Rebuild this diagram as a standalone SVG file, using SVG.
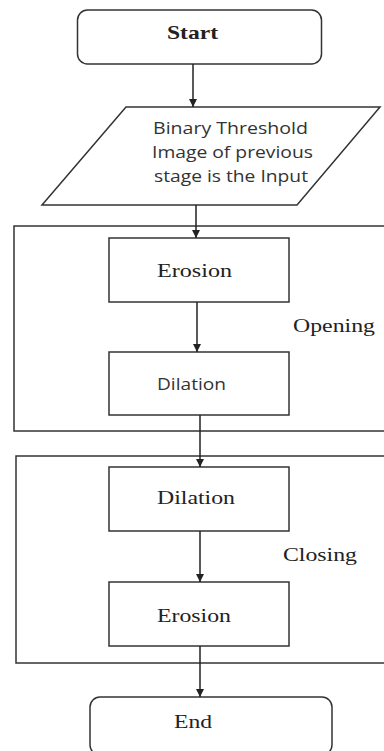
<svg xmlns="http://www.w3.org/2000/svg" width="384" height="751" viewBox="0 0 384 751">
  <defs>
    <style>
      .shape { fill: #ffffff; stroke: #333333; stroke-width: 1.5; }
      .group { fill: none; stroke: #333333; stroke-width: 1.5; }
      .serif { font-family: "Liberation Serif", "Times New Roman", serif; font-size: 19px; fill: #222222; }
      .sans { font-family: "Open Sans", "Liberation Sans", sans-serif; font-size: 15.5px; fill: #333333; }
      .conn { stroke: #222222; stroke-width: 1.5; fill: none; marker-end: url(#arrow); }
    </style>
    <marker id="arrow" viewBox="0 0 10 10" refX="10" refY="5" markerWidth="8" markerHeight="8" markerUnits="userSpaceOnUse" orient="auto">
      <path d="M0,0 L10,5 L0,10 z" fill="#222222"/>
    </marker>
  </defs>
  <rect width="384" height="751" fill="#ffffff"/>

  <g id="group-opening">
    <rect class="group" x="14" y="226" width="380" height="205"/>
    <text class="serif" x="293" y="332" textLength="82" lengthAdjust="spacingAndGlyphs">Opening</text>
  </g>
  <g id="group-closing">
    <rect class="group" x="16" y="456" width="380" height="207"/>
    <text class="serif" x="283" y="561" textLength="74" lengthAdjust="spacingAndGlyphs">Closing</text>
  </g>

  <g id="start">
    <rect class="shape" x="77.5" y="10" width="244" height="54" rx="10" ry="10"/>
    <text class="serif" x="167" y="39" font-size="20" font-weight="bold" textLength="51" lengthAdjust="spacingAndGlyphs">Start</text>
  </g>

  <g id="input">
    <path class="shape" d="M126,107 L380,107 L297,205 L42,205 Z"/>
    <text class="sans" x="153" y="134" textLength="155" lengthAdjust="spacingAndGlyphs">Binary Threshold</text>
    <text class="sans" x="152" y="158" textLength="161" lengthAdjust="spacingAndGlyphs">Image of previous</text>
    <text class="sans" x="154" y="182" textLength="154" lengthAdjust="spacingAndGlyphs">stage is the Input</text>
  </g>

  <g id="erosion1">
    <rect class="shape" x="109" y="238" width="180" height="64"/>
    <text class="serif" x="157" y="277" textLength="75" lengthAdjust="spacingAndGlyphs">Erosion</text>
  </g>

  <g id="dilation1">
    <rect class="shape" x="109" y="352" width="180" height="63"/>
    <text class="sans" x="157" y="390" textLength="69" lengthAdjust="spacingAndGlyphs">Dilation</text>
  </g>

  <g id="dilation2">
    <rect class="shape" x="109" y="467" width="180" height="64"/>
    <text class="serif" x="157" y="504" textLength="78" lengthAdjust="spacingAndGlyphs">Dilation</text>
  </g>

  <g id="erosion2">
    <rect class="shape" x="109" y="582" width="180" height="64"/>
    <text class="serif" x="157" y="622" textLength="74" lengthAdjust="spacingAndGlyphs">Erosion</text>
  </g>

  <g id="end">
    <rect class="shape" x="90" y="697" width="242" height="58" rx="10" ry="10"/>
    <text class="serif" x="174" y="728" textLength="38" lengthAdjust="spacingAndGlyphs">End</text>
  </g>

  <g id="connectors">
    <line class="conn" x1="193" y1="64" x2="193" y2="107"/>
    <line class="conn" x1="196" y1="205" x2="196" y2="238"/>
    <line class="conn" x1="197" y1="302" x2="197" y2="352"/>
    <line class="conn" x1="200" y1="415" x2="200" y2="467"/>
    <line class="conn" x1="200" y1="531" x2="200" y2="582"/>
    <line class="conn" x1="200" y1="646" x2="200" y2="697"/>
  </g>
</svg>
